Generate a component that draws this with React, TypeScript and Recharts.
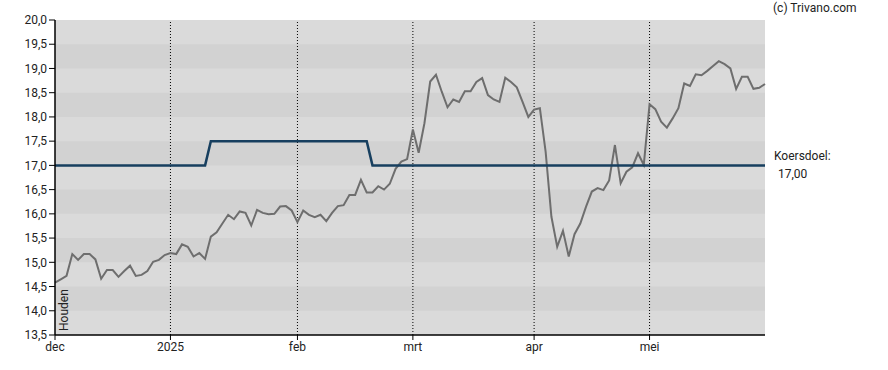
import React from "react";
import {
  LineChart,
  Line,
  XAxis,
  YAxis,
  ReferenceArea,
  ReferenceLine,
} from "recharts";

// trading-day index -> closing price (dec 2024 .. mei 2025)
const koers = [
  14.58, 14.65, 14.72, 15.17, 15.05, 15.17, 15.17, 15.06, 14.66, 14.84,
  14.84, 14.7, 14.82, 14.93, 14.72, 14.74, 14.82, 15.01, 15.05, 15.15,
  15.19, 15.17, 15.37, 15.32, 15.12, 15.19, 15.07, 15.53, 15.62, 15.8,
  15.98, 15.89, 16.05, 16.02, 15.76, 16.08, 16.02, 15.99, 16.0, 16.15,
  16.16, 16.07, 15.83, 16.07, 15.98, 15.93, 15.98, 15.85, 16.02, 16.16,
  16.18, 16.39, 16.39, 16.7, 16.44, 16.44, 16.57, 16.5, 16.62, 16.93,
  17.08, 17.13, 17.74, 17.26, 17.87, 18.73, 18.87, 18.52, 18.2, 18.36,
  18.31, 18.53, 18.53, 18.72, 18.8, 18.45, 18.36, 18.31, 18.81, 18.72,
  18.61, 18.31, 18.0, 18.15, 18.18, 17.28, 15.94, 15.32, 15.65, 15.12,
  15.58, 15.8, 16.15, 16.46, 16.53, 16.49, 16.69, 17.42, 16.63, 16.87,
  16.96, 17.25, 17.01, 18.26, 18.16, 17.9, 17.78, 17.97, 18.18, 18.69,
  18.64, 18.88, 18.86, 18.95, 19.05, 19.15, 19.09, 19.0, 18.58, 18.83,
  18.83, 18.58, 18.6, 18.68,
];

// koersdoel steps: [first index, value]
const koersdoelStappen: [number, number][] = [
  [0, 17.0],
  [27, 17.5],
  [55, 17.0],
];

const maandIndex = [0, 20, 42, 62, 83, 103];
const maandLabels = ["dec", "2025", "feb", "mrt", "apr", "mei"];

const yTicks = [13.5, 14, 14.5, 15, 15.5, 16, 16.5, 17, 17.5, 18, 18.5, 19, 19.5, 20];
const donkereBanden = [14, 15, 16, 17, 18, 19];

const koersdoelAt = (i: number) => {
  let v = koersdoelStappen[0][1];
  for (const [start, val] of koersdoelStappen) if (i >= start) v = val;
  return v;
};

const data = koers.map((k, i) => ({ i, koers: k, doel: koersdoelAt(i) }));

const FONT = "Roboto, 'Liberation Sans', sans-serif";
const tickStyle = { fontSize: 12, fill: "#222", fontFamily: FONT };

export default function App() {
  return (
    <div style={{ position: "absolute", left: 0, top: 0, width: 888, height: 370, background: "#fff" }}>
      <LineChart
        width={888}
        height={370}
        data={data}
        margin={{ top: 20, right: 123, left: 0, bottom: 5 }}
      >
        <ReferenceArea yAxisId="l" y1={13.5} y2={20} fill="#dadada" fillOpacity={1} stroke="none" />
        {donkereBanden.map((b) => (
          <ReferenceArea key={b} yAxisId="l" y1={b} y2={b + 0.5} fill="#d2d2d2" fillOpacity={1} stroke="none" />
        ))}
        {maandIndex.slice(1).map((m) => (
          <ReferenceLine key={m} yAxisId="l" x={m} stroke="#000" strokeDasharray="1 2" strokeWidth={1} />
        ))}
        <XAxis
          dataKey="i"
          type="number"
          domain={[0, 123]}
          ticks={maandIndex}
          tickFormatter={(v: number) => maandLabels[maandIndex.indexOf(v)]}
          interval={0}
          height={30}
          tickSize={5}
          stroke="#000"
          tick={tickStyle}
          axisLine={{ stroke: "#000", strokeWidth: 1.5 }}
          tickLine={{ stroke: "#000" }}
        />
        <XAxis xAxisId="top" orientation="top" dataKey="i" type="number" domain={[0, 123]} height={0} tick={false} tickLine={false} axisLine={{ stroke: "#000", strokeWidth: 1.5 }} />
        <YAxis
          yAxisId="l"
          domain={[13.5, 20]}
          ticks={yTicks}
          interval={0}
          width={55}
          tickSize={6}
          tick={tickStyle}
          tickFormatter={(v: number) => v.toFixed(1).replace(".", ",")}
          axisLine={{ stroke: "#000", strokeWidth: 1.5 }}
          tickLine={{ stroke: "#000" }}
        />
        <YAxis yAxisId="r" orientation="right" domain={[13.5, 20]} width={0} tick={false} tickLine={false} axisLine={{ stroke: "#000", strokeWidth: 1.5 }} />
        <Line
          yAxisId="l"
          type="linear"
          dataKey="koers"
          stroke="#6e6e6e"
          strokeWidth={2}
          dot={false}
          isAnimationActive={false}
        />
        <Line
          yAxisId="l"
          type="linear"
          dataKey="doel"
          stroke="#173f5f"
          strokeWidth={2.5}
          dot={false}
          isAnimationActive={false}
        />
      </LineChart>
      <div style={{ position: "absolute", left: 773, top: 0, fontSize: 12, fontFamily: FONT, color: "#222", lineHeight: "16px" }}>
        (c) Trivano.com
      </div>
      <div style={{ position: "absolute", left: 774, top: 148, fontSize: 12, fontFamily: FONT, color: "#222", lineHeight: "16px" }}>
        Koersdoel:
      </div>
      <div style={{ position: "absolute", left: 778, top: 166, fontSize: 12, fontFamily: FONT, color: "#222", lineHeight: "16px" }}>
        17,00
      </div>
      <div
        style={{
          position: "absolute",
          left: 57,
          top: 331,
          fontSize: 12,
          fontFamily: FONT,
          color: "#222",
          lineHeight: "14px",
          transform: "rotate(-90deg)",
          transformOrigin: "0 0",
          whiteSpace: "nowrap",
        }}
      >
        Houden
      </div>
    </div>
  );
}
